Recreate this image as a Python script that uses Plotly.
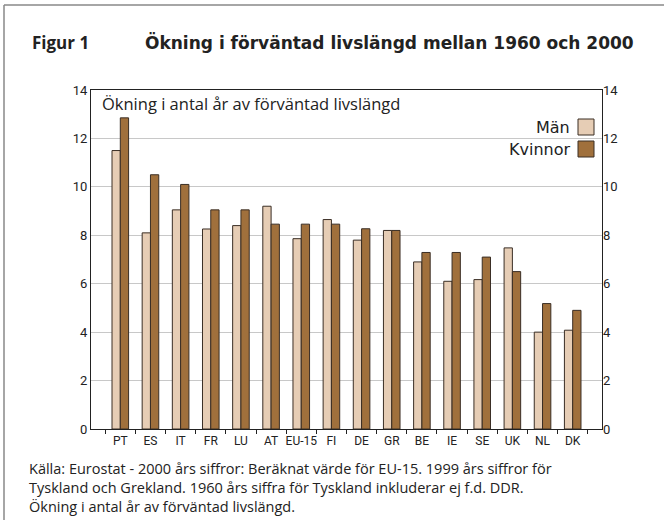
import plotly.graph_objects as go

categories = ["PT", "ES", "IT", "FR", "LU", "AT", "EU-15", "FI", "DE", "GR", "BE", "IE", "SE", "UK", "NL", "DK"]
man = [11.5, 8.1, 9.05, 8.26, 8.4, 9.2, 7.86, 8.65, 7.8, 8.2, 6.9, 6.1, 6.17, 7.48, 4.0, 4.08]
kvinnor = [12.85, 10.5, 10.1, 9.05, 9.05, 8.46, 8.46, 8.46, 8.27, 8.2, 7.29, 7.29, 7.1, 6.5, 5.18, 4.9]
y_ticks = [0, 2, 4, 6, 8, 10, 12, 14]

title_fig = "Figur 1"
title_text = "Ökning i förväntad livslängd mellan 1960 och 2000"
inner_label = "Ökning i antal år av förväntad livslängd"
footnote = ("Källa: Eurostat - 2000 års siffror: Beräknat värde för EU-15. 1999 års siffror för<br>"
            "Tyskland och Grekland. 1960 års siffra för Tyskland inkluderar ej f.d. DDR.<br>"
            "Ökning i antal år av förväntad livslängd.")

MEN_C = "#E6CDB5"
KV_C = "#A0703C"
EDGE = "#3a2e25"

W, H = 664, 520
ML, MR, MT, MB = 91, 62, 90, 91
PW, PH = W - ML - MR, H - MT - MB

def px(x):
    return (x - ML) / PW

def py(y):
    return 1 - (y - MT) / PH

tickf = "Roboto, sans-serif"
txtfont = "Open Sans, sans-serif"

fig = go.Figure()
fig.add_trace(go.Bar(x=categories, y=man, name="Män", marker=dict(color=MEN_C, line=dict(color=EDGE, width=1)), showlegend=False))
fig.add_trace(go.Bar(x=categories, y=kvinnor, name="Kvinnor", marker=dict(color=KV_C, line=dict(color=EDGE, width=1)), showlegend=False))
fig.add_trace(go.Scatter(x=categories, y=man, yaxis="y2", mode="markers", marker=dict(opacity=0), hoverinfo="skip", showlegend=False))

fig.update_layout(
    width=W, height=H,
    margin=dict(l=ML, r=MR, t=MT, b=MB, pad=0),
    paper_bgcolor="white", plot_bgcolor="white",
    barmode="group", bargap=0.45, bargroupgap=0,
    xaxis=dict(type="category", showline=True, linecolor="#222", linewidth=1.2, mirror=True,
               ticks="outside", tickson="boundaries", ticklen=4, tickcolor="#222", tickangle=0,
               automargin=False,
               tickfont=dict(family=tickf, size=12, color="#222"), showgrid=False),
    yaxis=dict(range=[0, 14], tickvals=y_ticks, showgrid=True, gridcolor="#c8c8c8", gridwidth=1,
               showline=True, linecolor="#222", linewidth=1.2, mirror=True, ticks="", automargin=False,
               tickfont=dict(family=tickf, size=13, color="#222"), zeroline=False),
    yaxis2=dict(range=[0, 14], tickvals=y_ticks, overlaying="y", side="right", showgrid=False, automargin=False,
                showline=False, ticks="", tickfont=dict(family=tickf, size=13, color="#222"), zeroline=False),
    font=dict(family=txtfont, color="#222"),
)

anns = [
    dict(text="<b>" + title_fig + "</b>", x=px(30), y=py(42), xanchor="left", yanchor="middle",
         font=dict(family="Open Sans, sans-serif", size=17, color="#222")),
    dict(text="<b>" + title_text + "</b>", x=px(143), y=py(42), xanchor="left", yanchor="middle",
         font=dict(family="DejaVu Sans, sans-serif", size=17, color="#222")),
    dict(text=inner_label, x=px(100), y=py(103), xanchor="left", yanchor="middle",
         font=dict(family=txtfont, size=16.5, color="#222")),
    dict(text="Män", x=px(572), y=py(127), xanchor="right", yanchor="middle",
         font=dict(family="DejaVu Sans, sans-serif", size=16, color="#222")),
    dict(text="Kvinnor", x=px(572), y=py(149), xanchor="right", yanchor="middle",
         font=dict(family="DejaVu Sans, sans-serif", size=16, color="#222")),
    dict(text=footnote, x=px(27), y=py(457), xanchor="left", yanchor="top", align="left",
         font=dict(family=txtfont, size=14.5, color="#222")),
]
for a in anns:
    a.update(xref="paper", yref="paper", showarrow=False)
fig.update_layout(annotations=anns)

shapes = [
    dict(type="rect", x0=px(578), x1=px(594), y0=py(119), y1=py(135), fillcolor=MEN_C, line=dict(color=EDGE, width=1)),
    dict(type="rect", x0=px(578), x1=px(594), y0=py(141), y1=py(157), fillcolor=KV_C, line=dict(color=EDGE, width=1)),
    dict(type="line", x0=px(4), x1=px(664), y0=py(5), y1=py(5), line=dict(color="#888", width=1.5)),
    dict(type="line", x0=px(4), x1=px(4), y0=py(5), y1=py(520), line=dict(color="#888", width=1.5)),
]
for s in shapes:
    s.update(xref="paper", yref="paper")
fig.update_layout(shapes=shapes)

fig.write_html("out.html", config={"displayModeBar": False},
               post_script="document.body.style.margin='0';document.body.style.overflow='hidden';")
